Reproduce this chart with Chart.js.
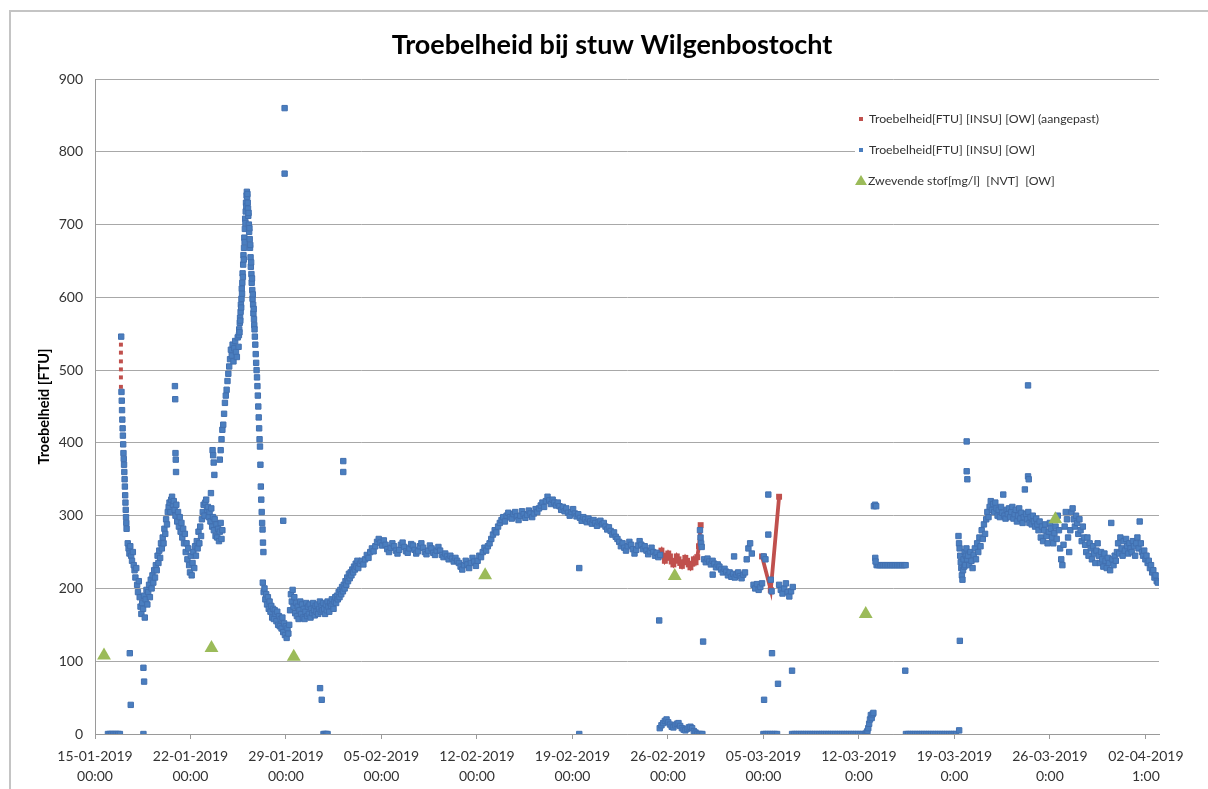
<!DOCTYPE html>
<html>
<head>
<meta charset="utf-8">
<title>Troebelheid bij stuw Wilgenbostocht</title>
<script src="https://cdn.jsdelivr.net/npm/chart.js@4.4.0/dist/chart.umd.min.js"></script>
<style>
  html, body { margin: 0; padding: 0; background: #ffffff; }
  canvas { display: block; }
</style>
</head>
<body>
<canvas id="chart" width="1208" height="789"></canvas>
<script>
// ---- texts ----
const chartTitle = 'Troebelheid bij stuw Wilgenbostocht';
const yAxisTitle = 'Troebelheid [FTU]';
const seriesNames = [
  'Troebelheid[FTU] [INSU] [OW] (aangepast)',
  'Troebelheid[FTU] [INSU] [OW]',
  'Zwevende stof[mg/l]  [NVT]  [OW]'
];

// x values are days after 15-01-2019 00:00
const tickDays = [0, 7, 14, 21, 28, 35, 42, 49, 56, 63, 70, 77.04];
const tickLabels = [
  ['15-01-2019', '00:00'], ['22-01-2019', '00:00'], ['29-01-2019', '00:00'],
  ['05-02-2019', '00:00'], ['12-02-2019', '00:00'], ['19-02-2019', '00:00'],
  ['26-02-2019', '00:00'], ['05-03-2019', '00:00'], ['12-03-2019', '0:00'],
  ['19-03-2019', '0:00'], ['26-03-2019', '0:00'], ['02-04-2019', '1:00']
];
const yMin = 0, yMax = 900, yStep = 100;
const xMin = 0, xMax = 78;

// ---- turbidity logger, runs of [start day, interval in hours, readings] ----
const turbidityJanuary = [
  [0.95, 3, [0, 0, 0, 0, 0, 0, 0, 0]],
  [1.92, 0.5, [546, 470, 458, 445, 432, 420, 410, 398, 386, 378, 370, 360, 350, 340, 328, 318, 308, 298, 290, 282]],
  [2.40, 1.5, [262, 255, 248, 258, 245, 238, 250, 232,
               225, 215, 228, 205, 195, 210, 188, 175,
               165, 180, 172, 190, 160, 185, 198, 178,
               195, 205, 188, 212, 200, 218, 208, 225,
               215, 232, 225, 245, 235, 252, 242, 262,
               255, 270, 262, 282, 275, 295, 288, 305,
               312, 318, 305, 322, 326, 315, 320, 308,
               300, 315, 292, 305, 285, 298, 278, 290,
               270, 282, 262, 275, 250, 262, 240, 255,
               232, 222, 245, 218, 235, 250, 228, 258,
               245, 265, 255, 278, 262, 285, 272, 295,
               305, 315, 300, 318, 322, 308, 312, 298,
               305, 292, 310, 285, 298, 280, 295, 272,
               288, 270, 282, 265, 278, 290, 268, 280]],
  [9.15, 1.5, [377, 390, 405, 418, 425, 440, 455, 465, 473, 485, 495, 505, 515, 528, 520, 535, 512, 530, 540, 525, 518, 545, 532]],
  [10.55, 0.5, [548, 556, 552, 565, 572, 568, 580, 590, 586, 598, 612, 605, 620, 633, 628, 645, 658, 652, 668, 682,
                676, 694, 708, 702, 718, 730, 725, 740, 745, 738, 742, 730, 722, 712, 716, 700, 690, 695, 680, 668,
                672, 655, 642, 648, 632, 620, 626, 610, 598, 604, 590, 578, 584, 570, 562, 556]],
  [11.72, 0.75, [546, 535, 522, 510, 500, 490, 478, 465, 450, 435, 420, 405, 395, 370, 340, 322, 305, 290, 281, 263, 250]],
  [12.30, 1.5, [208, 195, 200, 185, 192, 178, 188, 172,
                182, 168, 176, 160, 172, 158, 170, 165,
                155, 168, 150, 162, 148, 158, 145, 160,
                140, 152, 136, 148, 132, 145, 138, 150,
                170, 192, 182, 198, 175, 188, 166, 180,
                162, 175, 158, 170, 182, 165, 178, 160,
                172, 158, 168, 180, 162, 175, 165, 178,
                160, 172, 166, 180, 170, 163, 176, 168,
                178, 165, 172, 182, 168, 176, 170, 180,
                172, 165, 178, 170, 182, 175, 168, 180,
                176, 185, 178, 172, 182, 188, 180, 190,
                185, 195, 188, 198, 192, 202, 196, 205,
                200, 210, 205, 215, 210, 220, 214, 222,
                218, 226, 222, 230, 226, 234, 230, 238]]
];

const turbidityFebruary = [
  [19.30, 3, [228, 234, 238, 233, 240, 246, 242, 250, 255, 251,
              258, 264, 268, 263, 259, 266,
              260, 254, 250, 256, 262, 258, 252, 248, 253, 260, 263, 257, 251, 249, 255, 261,
              259, 253, 248, 251, 258, 262, 256, 250, 247, 252, 259, 255, 249, 246, 252, 257,
              252, 246, 243, 248, 244, 240, 245, 241, 237, 242, 238, 235,
              230, 226, 232, 238, 233, 228, 235, 242, 237, 231, 238, 245,
              243, 250, 256, 252, 258, 262,
              268, 274, 280, 277, 285, 290,
              294, 298, 292, 300, 304, 298,
              296, 302, 305, 299, 294, 300, 306, 302, 297, 301, 307, 303, 298, 303, 309, 305, 310, 314,
              318, 312, 320, 326, 321, 316, 322, 318, 314,
              318, 313, 308, 312, 306, 310, 304, 300, 305, 309, 303, 299,
              302, 297, 293, 298, 295, 291, 296, 292, 289, 294, 290, 286, 291, 293, 288,
              290, 285, 281, 284, 279, 274, 277, 271, 268,
              264, 258, 262, 256, 252, 258, 264, 260, 254, 248, 253, 259, 265, 260, 254,
              258, 252, 247, 251, 256, 250, 245, 249, 243, 246]],
  [41.40, 3, [8, 12, 15, 18, 20, 16, 13, 10, 9, 12, 14, 15, 11, 8, 6, 5, 7, 9, 10, 8, 4, 2, 0, 0, 0, 0]],
  [44.35, 1, [280, 270, 262, 257]]
];

const turbidityMarch = [
  [44.65, 3, [240, 236, 241, 237, 233, 238, 234, 229, 233,
              230, 226, 222, 227, 223, 218, 222, 216, 220, 215,
              219, 222, 217, 214, 219, 222,
              240, 255, 262, 248,
              205, 200, 206, 198, 202, 207,
              244, 240]],
  [50.15, 3, [205, 198, 193, 200, 207, 195, 189, 196, 202]],
  [49.00, 4, [0, 0, 0, 0, 0, 0, 0]],
  [51.10, 4, [0, 0, 0, 0, 0, 0, 0, 0, 0, 0, 0, 0, 0, 0, 0, 0, 0, 0, 0, 0, 0, 0, 0, 0, 0, 0, 0, 0, 0, 0, 0, 0, 0]],
  [56.50, 1.5, [0, 2, 4, 8, 14, 20, 26, 22, 27, 29]],
  [57.10, 2, [313, 315, 313]],
  [57.30, 3, [232, 232, 232, 232, 232, 232, 232, 232, 232, 232, 232, 232, 232, 232, 232, 232, 232, 232]],
  [59.45, 4, [0, 0, 0, 0, 0, 0, 0, 0, 0, 0, 0, 0, 0, 0, 0, 0, 0, 0, 0, 0, 0, 0, 0]],
  [63.30, 1, [272, 262, 255, 245, 236, 228, 218, 212, 225, 240, 230, 250, 232, 245, 255, 240]],
  [64.00, 2, [245, 232, 250, 238, 228, 246, 255, 240,
              262, 250, 270, 258, 280, 268, 288, 275,
              295, 305, 298, 312, 320, 308, 316, 305, 318, 310, 300,
              308, 298, 312, 304, 329, 300, 296, 308, 302, 310, 298,
              305, 312, 296, 302, 308, 292, 300, 310, 296, 304, 290, 298,
              336, 302, 295, 305, 290, 298, 288, 300, 292, 285, 296, 288,
              280, 292, 270, 285, 265, 280, 288, 272, 262, 278, 290,
              282, 270, 262, 276, 285, 268,
              300, 280, 255, 240, 232, 260, 285, 305, 295, 270, 250, 280,
              305, 310, 295, 285, 300, 290, 275, 295, 280, 265, 285, 270,
              260, 250, 270, 245, 262, 255, 240, 258, 248, 235, 252, 262,
              245, 235, 250, 240, 230, 248, 238, 228, 242, 235, 225,
              290, 240, 232, 245, 238, 250,
              262, 248, 270, 255, 245, 265, 252, 268, 258, 248, 262, 255,
              250, 265, 258, 245, 262, 270, 255, 292, 262, 250, 245,
              252, 240, 245, 235, 238, 228, 232, 222, 225, 215, 218, 210, 208]]
];

// single readings away from the main trace [day, FTU]
const turbidityOutliers = [
  [2.55, 111], [2.62, 40], [3.55, 91], [3.60, 72], [3.55, 0],
  [5.86, 478], [5.88, 460], [5.90, 386], [5.92, 377], [5.94, 360],
  [8.50, 331], [8.62, 390], [8.66, 383], [8.70, 373], [8.75, 356],
  [13.80, 293], [13.90, 860], [13.90, 770],
  [16.50, 63], [16.62, 47], [16.75, 0], [16.85, 0], [16.95, 0], [17.05, 0],
  [18.20, 375], [18.20, 360],
  [35.50, 0], [35.50, 228],
  [41.36, 156], [44.58, 127], [45.28, 219], [46.85, 244],
  [49.36, 329], [49.36, 274], [49.54, 212], [49.60, 196], [49.63, 111], [50.07, 69], [49.05, 47], [51.10, 87],
  [57.20, 242], [57.22, 237],
  [59.40, 87], [63.35, 5], [63.40, 128], [63.90, 402], [63.90, 361], [63.95, 350],
  [68.40, 479], [68.40, 354], [68.45, 350]
];

// ---- corrected turbidity ----
const adjustedSpike = [[1.90, 535], [1.90, 524], [1.90, 512], [1.90, 501], [1.90, 490], [1.90, 477]];
const adjustedFebruary = [
  [41.40, 3, [248, 252, 245, 238, 242, 248, 244, 237, 233, 238, 244, 240, 235, 231, 236, 242, 238, 233, 229, 234,
              240, 236, 243, 258, 287]]
];
const adjustedMarch = [[48.90, 244], [49.54, 198], [50.15, 326]];

// ---- suspended solids lab samples ----
const solidsDays = [0.66, 8.54, 14.57, 28.6, 42.5, 56.5, 70.4];
const solidsValues = [108, 118, 106, 218, 217, 165, 295];

// ---- helpers ----
function expandRuns(runs) {
  const pts = [];
  runs.forEach(([start, stepHours, vals]) => {
    vals.forEach((v, i) => pts.push({ x: start + i * stepHours / 24, y: v }));
  });
  return pts;
}
function toPoints(list) { return list.map(([x, y]) => ({ x, y })); }

const blueData = []
  .concat(expandRuns(turbidityJanuary))
  .concat(expandRuns(turbidityFebruary))
  .concat(expandRuns(turbidityMarch))
  .concat(toPoints(turbidityOutliers));

const redLineData = expandRuns(adjustedFebruary)
  .concat([{ x: 46.0, y: null }])
  .concat(toPoints(adjustedMarch));

const greenData = solidsDays.map((d, i) => ({ x: d, y: solidsValues[i] }));

const COL_BLUE = '#4a7ebf';
const COL_BLUE_EDGE = '#4270b0';
const COL_RED = '#c0504d';
const COL_GREEN = '#9bbb59';
const FONT = "Lato, 'Noto Sans', 'DejaVu Sans', sans-serif";

// ---- title, frame and legend drawn on the canvas ----
const decorations = {
  id: 'decorations',
  beforeDraw(chart) {
    const ctx = chart.ctx;
    ctx.save();
    ctx.fillStyle = '#ffffff';
    ctx.fillRect(0, 0, chart.width, chart.height);
    ctx.strokeStyle = '#c4c4c4';
    ctx.lineWidth = 2;
    ctx.strokeRect(10, 11, chart.width + 20, chart.height + 20);
    ctx.restore();
  },
  afterDraw(chart) {
    const ctx = chart.ctx;
    const area = chart.chartArea;
    ctx.save();
    // title
    ctx.fillStyle = '#000000';
    ctx.font = 'bold 27px ' + FONT;
    ctx.textAlign = 'center';
    ctx.textBaseline = 'middle';
    ctx.fillText(chartTitle, 612, 45);

    // legend box inside the plot
    const lx = area.right - 298;
    const ly = area.top + 26;
    ctx.fillStyle = '#ffffff';
    ctx.fillRect(lx - 6, ly, area.right - lx + 6, 92);
    const rows = [ly + 14, ly + 45, ly + 76];
    ctx.font = '12.3px ' + FONT;
    ctx.textAlign = 'left';
    ctx.textBaseline = 'middle';
    ctx.fillStyle = COL_RED;
    ctx.fillRect(lx - 2, rows[0] - 2, 4, 4);
    ctx.fillStyle = COL_BLUE;
    ctx.fillRect(lx - 2, rows[1] - 2, 4, 4);
    ctx.fillStyle = COL_GREEN;
    ctx.beginPath();
    ctx.moveTo(lx, rows[2] - 6);
    ctx.lineTo(lx + 6, rows[2] + 4);
    ctx.lineTo(lx - 6, rows[2] + 4);
    ctx.closePath();
    ctx.fill();
    ctx.fillStyle = '#333333';
    ctx.fillText(seriesNames[0], lx + 8, rows[0]);
    ctx.fillText(seriesNames[1], lx + 8, rows[1]);
    ctx.fillText(seriesNames[2], lx + 7, rows[2]);
    ctx.restore();
  }
};

new Chart(document.getElementById('chart'), {
  type: 'scatter',
  data: {
    datasets: [
      {
        label: seriesNames[2],
        data: greenData,
        pointStyle: 'triangle',
        pointRadius: 8,
        pointHoverRadius: 8,
        backgroundColor: COL_GREEN,
        borderColor: COL_GREEN,
        borderWidth: 0,
        order: 0
      },
      {
        label: seriesNames[1],
        data: blueData,
        pointStyle: 'rect',
        pointRadius: 3.8,
        pointHoverRadius: 3.8,
        backgroundColor: COL_BLUE,
        borderColor: COL_BLUE_EDGE,
        borderWidth: 1,
        order: 1
      },
      {
        label: seriesNames[0],
        data: toPoints(adjustedSpike),
        pointStyle: 'rect',
        pointRadius: 2.8,
        pointHoverRadius: 2.8,
        backgroundColor: COL_RED,
        borderColor: COL_RED,
        borderWidth: 0,
        order: 2
      },
      {
        label: seriesNames[0],
        data: redLineData,
        showLine: true,
        spanGaps: false,
        borderColor: COL_RED,
        backgroundColor: COL_RED,
        borderWidth: 3.8,
        pointStyle: 'rect',
        pointRadius: 1.5,
        pointHoverRadius: 1.5,
        order: 3
      }
    ]
  },
  options: {
    responsive: false,
    animation: false,
    devicePixelRatio: 1,
    layout: { padding: { left: 20, right: 49, top: 79, bottom: 0 } },
    plugins: {
      legend: { display: false },
      title: { display: false },
      tooltip: { enabled: false }
    },
    scales: {
      x: {
        type: 'linear',
        min: xMin,
        max: xMax,
        afterFit(scale) { scale.height = 55; },
        afterBuildTicks(scale) { scale.ticks = tickDays.map(v => ({ value: v })); },
        grid: { display: true, drawOnChartArea: false, drawTicks: true, tickLength: 5, color: '#9a9a9a' },
        border: { display: true, color: '#9a9a9a', width: 1 },
        ticks: {
          autoSkip: false,
          maxRotation: 0,
          minRotation: 0,
          padding: 7,
          color: '#333333',
          font: { family: FONT, size: 14, lineHeight: 1.45 },
          callback: (value, index) => tickLabels[index]
        }
      },
      y: {
        type: 'linear',
        min: yMin,
        max: yMax,
        afterFit(scale) { scale.width = 75; },
        grid: { color: '#a8a8a8', lineWidth: 1, drawTicks: false },
        border: { display: true, color: '#9a9a9a', width: 1 },
        ticks: {
          stepSize: yStep,
          padding: 12,
          color: '#333333',
          font: { family: FONT, size: 14 }
        },
        title: {
          display: true,
          text: yAxisTitle,
          color: '#000000',
          font: { family: FONT, size: 14.5, weight: 'bold' },
          padding: { top: 16, bottom: 0 }
        }
      }
    }
  },
  plugins: [decorations]
});
</script>
</body>
</html>
